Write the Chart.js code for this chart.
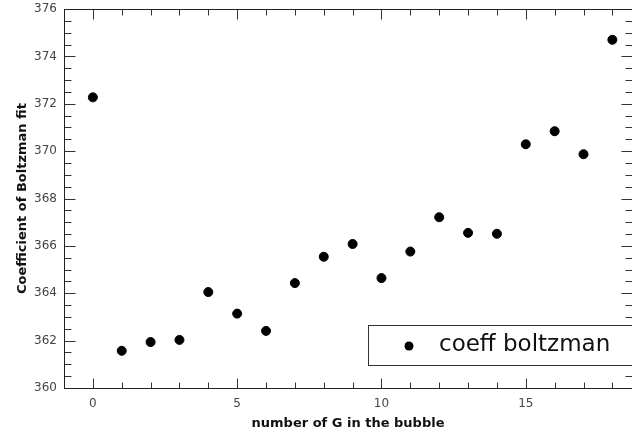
<!DOCTYPE html>
<html>
<head>
<meta charset="utf-8">
<script src="https://cdn.jsdelivr.net/npm/chart.js@4"></script>
<style>
  html, body { margin: 0; padding: 0; background: #fff; }
  #wrap { width: 632px; height: 436px; }
</style>
</head>
<body>
<div id="wrap"><canvas id="chart" width="632" height="436"></canvas></div>
<script>
// data
const gCounts = [0, 1, 2, 3, 4, 5, 6, 7, 8, 9, 10, 11, 12, 13, 14, 15, 16, 17, 18];
const coeffValues = [372.27, 361.57, 361.94, 362.03, 364.05, 363.14, 362.41, 364.43, 365.54, 366.08,
                     364.64, 365.76, 367.21, 366.55, 366.51, 370.29, 370.84, 369.87, 374.70];
const xTickLabels = [0, 5, 10, 15];
const yTickLabels = [360, 362, 364, 366, 368, 370, 372, 374, 376];
const seriesName = "coeff boltzman";

const points = gCounts.map((g, i) => ({ x: g, y: coeffValues[i] }));

// inside tick marks + frame (gnuplot-ish box)
const frameTicks = {
    id: "frameTicks",
    afterDatasetsDraw(chart) {
        const ctx = chart.ctx;
        const a = chart.chartArea;
        const xs = chart.scales.x;
        const ys = chart.scales.y;
        const L = Math.round(a.left) + 0.5, R = Math.round(a.right) + 0.5;
        const T = Math.round(a.top) + 0.5, B = Math.round(a.bottom) + 0.5;
        ctx.save();
        ctx.strokeStyle = "#333333";
        ctx.lineWidth = 1;
        ctx.beginPath();
        for (let v = -1; v <= 19; v++) {
            const px = Math.round(xs.getPixelForValue(v)) + 0.5;
            const len = v % 5 === 0 ? 10 : 6;
            ctx.moveTo(px, B); ctx.lineTo(px, B - len);
            ctx.moveTo(px, T); ctx.lineTo(px, T + len);
        }
        for (let k = 0; k <= 32; k++) {
            const v = 360 + k * 0.5;
            const py = Math.round(ys.getPixelForValue(v)) + 0.5;
            const len = k % 4 === 0 ? 11 : 7;
            ctx.moveTo(L, py); ctx.lineTo(L + len, py);
            ctx.moveTo(R, py); ctx.lineTo(R - len, py);
        }
        ctx.stroke();
        ctx.strokeStyle = "#222222";
        ctx.strokeRect(L, T, R - L, B - T);
        ctx.restore();
    }
};

// legend box sitting inside the plot, bottom right
const boxLegend = {
    id: "boxLegend",
    afterDraw(chart) {
        const ctx = chart.ctx;
        const ds = chart.data.datasets[0];
        ctx.save();
        ctx.fillStyle = "#fff";
        ctx.fillRect(368, 325, 280, 40);
        ctx.strokeStyle = "#333";
        ctx.lineWidth = 1;
        ctx.strokeRect(368.5, 325.5, 280, 40);
        ctx.fillStyle = "#000";
        ctx.beginPath();
        ctx.arc(409, 346, 4.5, 0, Math.PI * 2);
        ctx.fill();
        ctx.font = "23px 'DejaVu Sans', sans-serif";
        ctx.textBaseline = "middle";
        ctx.fillStyle = "#111";
        ctx.fillText(ds.label, 439, 345);
        ctx.restore();
    }
};

new Chart(document.getElementById("chart").getContext("2d"), {
    type: "scatter",
    data: {
        datasets: [{
            label: seriesName,
            data: points,
            backgroundColor: "#000",
            borderColor: "#000",
            pointRadius: 4.5,
            pointHoverRadius: 4.5
        }]
    },
    options: {
        responsive: false,
        animation: false,
        layout: { autoPadding: false, padding: { top: 9, right: 0, left: 0, bottom: 0 } },
        plugins: {
            legend: { display: false },
            tooltip: { enabled: false }
        },
        scales: {
            x: {
                type: "linear",
                min: -1,
                max: 18.68,
                grid: { display: false, drawTicks: false },
                border: { display: false },
                afterBuildTicks: (s) => { s.ticks = xTickLabels.map(v => ({ value: v })); },
                afterFit: (s) => { s.height = 48; s.paddingLeft = 0; s.paddingRight = 0; },
                ticks: {
                    color: "#444",
                    padding: 9,
                    font: { family: "'DejaVu Sans', sans-serif", size: 12 }
                },
                title: {
                    display: true,
                    text: "number of G in the bubble",
                    color: "#111",
                    padding: { top: 1, bottom: 5 },
                    font: { family: "'DejaVu Sans', sans-serif", size: 13, weight: "bold" }
                }
            },
            y: {
                min: 360,
                max: 376,
                grid: { display: false, drawTicks: false },
                border: { display: false },
                afterBuildTicks: (s) => { s.ticks = yTickLabels.map(v => ({ value: v })); },
                afterFit: (s) => { s.width = 64; s.paddingTop = 0; s.paddingBottom = 0; },
                ticks: {
                    color: "#444",
                    padding: 7,
                    font: { family: "'DejaVu Sans', sans-serif", size: 12 }
                },
                title: {
                    display: true,
                    text: "Coefficient of Boltzman fit",
                    color: "#111",
                    padding: { top: 15, bottom: 0 },
                    font: { family: "'DejaVu Sans', sans-serif", size: 13, weight: "bold" }
                }
            }
        }
    },
    plugins: [frameTicks, boxLegend]
});
</script>
</body>
</html>
